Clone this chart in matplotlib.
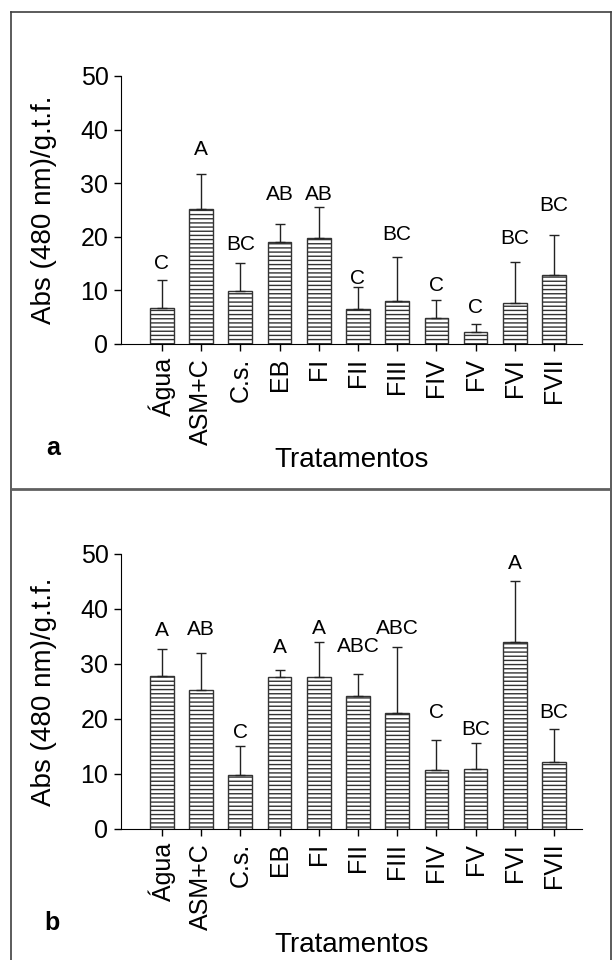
import matplotlib.pyplot as plt
from matplotlib.lines import Line2D

plt.rcParams['font.family'] = ['Liberation Sans', 'DejaVu Sans']
plt.rcParams['hatch.color'] = '#808080'
plt.rcParams['hatch.linewidth'] = 1.0

tratamentos = ['Água', 'ASM+C', 'C.s.', 'EB', 'FI', 'FII', 'FIII', 'FIV', 'FV', 'FVI', 'FVII']

# Panel a
media_a = [6.8, 25.1, 9.9, 19.1, 19.7, 6.5, 8.1, 4.8, 2.3, 7.6, 12.9]
erro_a = [5.1, 6.6, 5.2, 3.2, 5.9, 4.2, 8.2, 3.45, 1.4, 7.7, 7.4]
letras_a = ['C', 'A', 'BC', 'AB', 'AB', 'C', 'BC', 'C', 'C', 'BC', 'BC']
pos_letras_a = [15.1, 36.2, 18.6, 27.9, 27.9, 12.3, 20.5, 10.9, 6.8, 19.6, 25.8]

# Panel b
media_b = [27.8, 25.3, 9.9, 27.6, 27.6, 24.2, 21.0, 10.75, 10.9, 34.0, 12.1]
erro_b = [5.0, 6.6, 5.2, 1.3, 6.3, 3.9, 12.0, 5.45, 4.65, 11.1, 6.0]
letras_b = ['A', 'AB', 'C', 'A', 'A', 'ABC', 'ABC', 'C', 'BC', 'A', 'BC']
pos_letras_b = [36.1, 36.2, 17.6, 33.0, 36.5, 33.2, 36.5, 21.1, 18.1, 48.2, 21.2]

fig = plt.figure(figsize=(6.12, 9.6), dpi=100)

# moldura e divisao entre paineis
fig.add_artist(Line2D([11/612, 11/612], [0, 1 - 12/960], color='#404040', lw=1.2))
fig.add_artist(Line2D([11/612, 611/612], [1 - 12/960, 1 - 12/960], color='#404040', lw=1.2))
fig.add_artist(Line2D([611/612, 611/612], [0, 1 - 12/960], color='#404040', lw=1.2))
fig.add_artist(Line2D([11/612, 1], [1 - 489/960, 1 - 489/960], color='#606060', lw=2))

ax_a = fig.add_axes([0.1977, 0.6417, 0.7533, 0.2792])
ax_b = fig.add_axes([0.1977, 0.1365, 0.7533, 0.2865])

x = list(range(len(tratamentos)))

for ax, media, erro, letras, pos in [(ax_a, media_a, erro_a, letras_a, pos_letras_a),
                                     (ax_b, media_b, erro_b, letras_b, pos_letras_b)]:
    ax.bar(x, media, width=0.6, color='white', edgecolor='#333333', linewidth=1.0,
           hatch='----', zorder=2)
    ax.errorbar(x, media, yerr=[[0] * len(erro), erro], fmt='none', ecolor='#222222',
                elinewidth=1.0, capsize=3.5, capthick=1.0, zorder=3)
    for xi, letra, yl in zip(x, letras, pos):
        ax.text(xi, yl, letra, ha='center', va='center', fontsize=15)
    ax.set_xlim(-1.04, 10.71)
    ax.set_ylim(0, 50)
    ax.set_yticks([0, 10, 20, 30, 40, 50])
    ax.set_xticks(x)
    ax.set_xticklabels(tratamentos, rotation=90, fontsize=18)
    ax.tick_params(axis='y', labelsize=18, length=5, width=1, direction='out', pad=4)
    ax.tick_params(axis='x', length=5, width=1, direction='out', pad=5)
    ax.spines['top'].set_visible(False)
    ax.spines['right'].set_visible(False)
    ax.set_ylabel('Abs (480 nm)/g.t.f.', fontsize=20, labelpad=17)
    ax.set_xlabel('Tratamentos', fontsize=20, labelpad=2)

fig.text(53/612, 1 - 448/960, 'a', fontsize=18, fontweight='bold', ha='center', va='center')
fig.text(52/612, 1 - 923/960, 'b', fontsize=18, fontweight='bold', ha='center', va='center')

fig.savefig('out.png', dpi=100, facecolor='white')
